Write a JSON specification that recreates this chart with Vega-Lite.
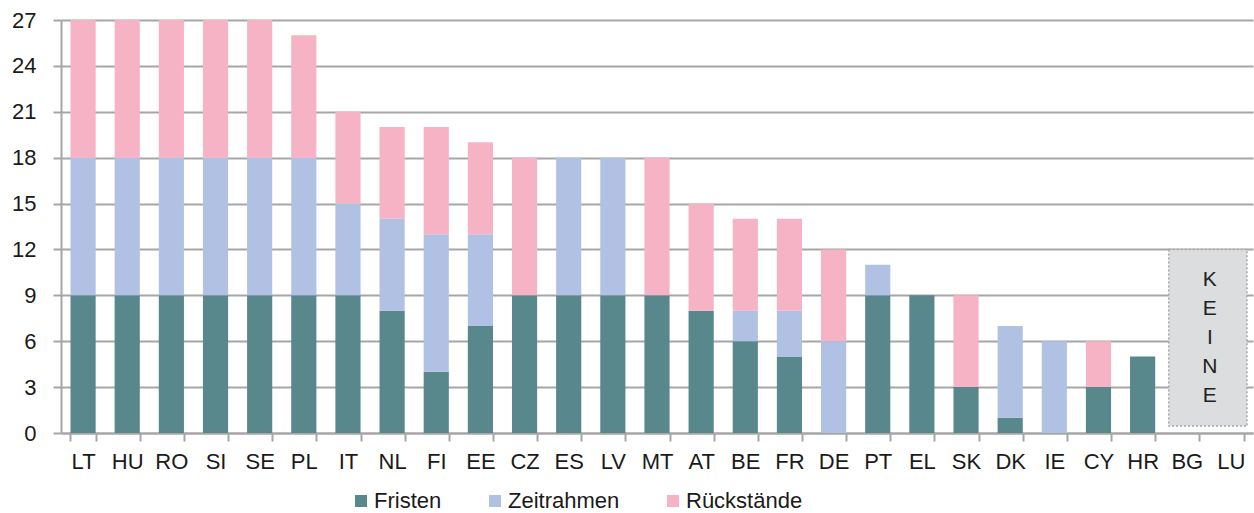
{
  "$schema": "https://vega.github.io/schema/vega-lite/v6.json",
  "width": 1192,
  "height": 413,
  "autosize": {"type": "none"},
  "padding": {"left": 61, "top": 20, "right": 1, "bottom": 80},
  "background": "white",
  "config": {
    "font": "Liberation Sans",
    "view": {"stroke": null},
    "axis": {"title": null, "labelFont": "Liberation Sans", "labelColor": "#1a1a1a", "labelFontSize": 22},
    "axisY": {"domainColor": "#A6A6A6", "domainWidth": 2, "tickColor": "#A6A6A6", "tickWidth": 2, "tickSize": 8, "grid": true, "gridColor": "#A6A6A6", "gridWidth": 2, "labelPadding": 17},
    "axisX": {"domainColor": "#A6A6A6", "domainWidth": 2, "tickColor": "#A6A6A6", "tickWidth": 2, "tickSize": 8, "tickBand": "extent", "grid": false, "labelPadding": 10, "labelAngle": 0}
  },
  "datasets": {
    "bars": [
      {"c": "LT", "s": "Fristen", "k": 1, "v": 9}, {"c": "LT", "s": "Zeitrahmen", "k": 2, "v": 9}, {"c": "LT", "s": "Rückstände", "k": 3, "v": 9},
      {"c": "HU", "s": "Fristen", "k": 1, "v": 9}, {"c": "HU", "s": "Zeitrahmen", "k": 2, "v": 9}, {"c": "HU", "s": "Rückstände", "k": 3, "v": 9},
      {"c": "RO", "s": "Fristen", "k": 1, "v": 9}, {"c": "RO", "s": "Zeitrahmen", "k": 2, "v": 9}, {"c": "RO", "s": "Rückstände", "k": 3, "v": 9},
      {"c": "SI", "s": "Fristen", "k": 1, "v": 9}, {"c": "SI", "s": "Zeitrahmen", "k": 2, "v": 9}, {"c": "SI", "s": "Rückstände", "k": 3, "v": 9},
      {"c": "SE", "s": "Fristen", "k": 1, "v": 9}, {"c": "SE", "s": "Zeitrahmen", "k": 2, "v": 9}, {"c": "SE", "s": "Rückstände", "k": 3, "v": 9},
      {"c": "PL", "s": "Fristen", "k": 1, "v": 9}, {"c": "PL", "s": "Zeitrahmen", "k": 2, "v": 9}, {"c": "PL", "s": "Rückstände", "k": 3, "v": 8},
      {"c": "IT", "s": "Fristen", "k": 1, "v": 9}, {"c": "IT", "s": "Zeitrahmen", "k": 2, "v": 6}, {"c": "IT", "s": "Rückstände", "k": 3, "v": 6},
      {"c": "NL", "s": "Fristen", "k": 1, "v": 8}, {"c": "NL", "s": "Zeitrahmen", "k": 2, "v": 6}, {"c": "NL", "s": "Rückstände", "k": 3, "v": 6},
      {"c": "FI", "s": "Fristen", "k": 1, "v": 4}, {"c": "FI", "s": "Zeitrahmen", "k": 2, "v": 9}, {"c": "FI", "s": "Rückstände", "k": 3, "v": 7},
      {"c": "EE", "s": "Fristen", "k": 1, "v": 7}, {"c": "EE", "s": "Zeitrahmen", "k": 2, "v": 6}, {"c": "EE", "s": "Rückstände", "k": 3, "v": 6},
      {"c": "CZ", "s": "Fristen", "k": 1, "v": 9}, {"c": "CZ", "s": "Zeitrahmen", "k": 2, "v": 0}, {"c": "CZ", "s": "Rückstände", "k": 3, "v": 9},
      {"c": "ES", "s": "Fristen", "k": 1, "v": 9}, {"c": "ES", "s": "Zeitrahmen", "k": 2, "v": 9}, {"c": "ES", "s": "Rückstände", "k": 3, "v": 0},
      {"c": "LV", "s": "Fristen", "k": 1, "v": 9}, {"c": "LV", "s": "Zeitrahmen", "k": 2, "v": 9}, {"c": "LV", "s": "Rückstände", "k": 3, "v": 0},
      {"c": "MT", "s": "Fristen", "k": 1, "v": 9}, {"c": "MT", "s": "Zeitrahmen", "k": 2, "v": 0}, {"c": "MT", "s": "Rückstände", "k": 3, "v": 9},
      {"c": "AT", "s": "Fristen", "k": 1, "v": 8}, {"c": "AT", "s": "Zeitrahmen", "k": 2, "v": 0}, {"c": "AT", "s": "Rückstände", "k": 3, "v": 7},
      {"c": "BE", "s": "Fristen", "k": 1, "v": 6}, {"c": "BE", "s": "Zeitrahmen", "k": 2, "v": 2}, {"c": "BE", "s": "Rückstände", "k": 3, "v": 6},
      {"c": "FR", "s": "Fristen", "k": 1, "v": 5}, {"c": "FR", "s": "Zeitrahmen", "k": 2, "v": 3}, {"c": "FR", "s": "Rückstände", "k": 3, "v": 6},
      {"c": "DE", "s": "Fristen", "k": 1, "v": 0}, {"c": "DE", "s": "Zeitrahmen", "k": 2, "v": 6}, {"c": "DE", "s": "Rückstände", "k": 3, "v": 6},
      {"c": "PT", "s": "Fristen", "k": 1, "v": 9}, {"c": "PT", "s": "Zeitrahmen", "k": 2, "v": 2}, {"c": "PT", "s": "Rückstände", "k": 3, "v": 0},
      {"c": "EL", "s": "Fristen", "k": 1, "v": 9}, {"c": "EL", "s": "Zeitrahmen", "k": 2, "v": 0}, {"c": "EL", "s": "Rückstände", "k": 3, "v": 0},
      {"c": "SK", "s": "Fristen", "k": 1, "v": 3}, {"c": "SK", "s": "Zeitrahmen", "k": 2, "v": 0}, {"c": "SK", "s": "Rückstände", "k": 3, "v": 6},
      {"c": "DK", "s": "Fristen", "k": 1, "v": 1}, {"c": "DK", "s": "Zeitrahmen", "k": 2, "v": 6}, {"c": "DK", "s": "Rückstände", "k": 3, "v": 0},
      {"c": "IE", "s": "Fristen", "k": 1, "v": 0}, {"c": "IE", "s": "Zeitrahmen", "k": 2, "v": 6}, {"c": "IE", "s": "Rückstände", "k": 3, "v": 0},
      {"c": "CY", "s": "Fristen", "k": 1, "v": 3}, {"c": "CY", "s": "Zeitrahmen", "k": 2, "v": 0}, {"c": "CY", "s": "Rückstände", "k": 3, "v": 3},
      {"c": "HR", "s": "Fristen", "k": 1, "v": 5}, {"c": "HR", "s": "Zeitrahmen", "k": 2, "v": 0}, {"c": "HR", "s": "Rückstände", "k": 3, "v": 0},
      {"c": "BG", "s": "Fristen", "k": 1, "v": 0}, {"c": "BG", "s": "Zeitrahmen", "k": 2, "v": 0}, {"c": "BG", "s": "Rückstände", "k": 3, "v": 0},
      {"c": "LU", "s": "Fristen", "k": 1, "v": 0}, {"c": "LU", "s": "Zeitrahmen", "k": 2, "v": 0}, {"c": "LU", "s": "Rückstände", "k": 3, "v": 0}
    ],
    "none": [
      {"c0": "BG", "c1": "LU", "top": 12, "bottom": 0.45, "mid": 10.0, "label": "K\nE\nI\nN\nE"}
    ]
  },
  "layer": [
    {
      "data": {"name": "bars"},
      "mark": {"type": "bar"},
      "encoding": {
        "x": {
          "field": "c", "type": "nominal",
          "scale": {"domain": ["LT","HU","RO","SI","SE","PL","IT","NL","FI","EE","CZ","ES","LV","MT","AT","BE","FR","DE","PT","EL","SK","DK","IE","CY","HR","BG","LU"], "paddingInner": 0.43, "paddingOuter": 0.215}
        },
        "y": {
          "field": "v", "type": "quantitative", "stack": "zero",
          "scale": {"domain": [0, 27], "nice": false, "zero": true},
          "axis": {"values": [0, 3, 6, 9, 12, 15, 18, 21, 24, 27]}
        },
        "color": {
          "field": "s", "type": "nominal",
          "scale": {"domain": ["Fristen", "Zeitrahmen", "Rückstände"], "range": ["#58878C", "#B0C1E3", "#F5B3C5"]},
          "legend": {"title": null, "orient": "none", "legendX": 289, "legendY": 470, "direction": "horizontal", "symbolType": "square", "symbolSize": 144, "symbolStrokeWidth": 0, "labelFontSize": 22, "labelColor": "#1a1a1a", "labelOffset": 2, "columnPadding": 42}
        },
        "order": {"field": "k", "type": "quantitative"}
      }
    },
    {
      "data": {"name": "none"},
      "mark": {"type": "rect", "fill": "#DCDDDF", "stroke": "#A8A8A8", "strokeDash": [2, 2], "strokeWidth": 1.5, "xOffset": -5.5, "x2Offset": 3.5},
      "encoding": {
        "x": {"field": "c0", "type": "nominal", "bandPosition": 0},
        "x2": {"field": "c1", "bandPosition": 1},
        "y": {"field": "top", "type": "quantitative"},
        "y2": {"field": "bottom"}
      }
    },
    {
      "data": {"name": "none"},
      "mark": {"type": "text", "fontSize": 21, "lineHeight": 29, "lineBreak": "\n", "baseline": "middle", "align": "center", "dx": 10.5, "color": "#222222"},
      "encoding": {
        "x": {"field": "c0", "type": "nominal", "bandPosition": 1},
        "y": {"field": "mid", "type": "quantitative"},
        "text": {"field": "label"}
      }
    }
  ]
}
